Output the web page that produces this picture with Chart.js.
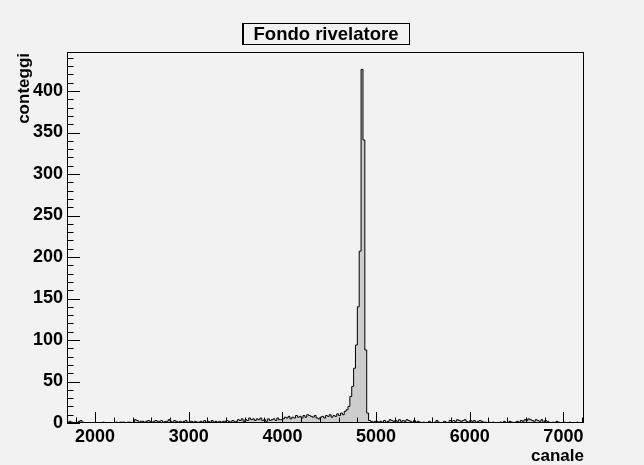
<!DOCTYPE html>
<html>
<head>
<meta charset="utf-8">
<script src="https://cdn.jsdelivr.net/npm/chart.js@4/dist/chart.umd.min.js"></script>
<style>
  body { margin: 0; background: #f2f2f2; }
  #wrap { width: 644px; height: 465px; position: relative; }
</style>
</head>
<body>
<div id="wrap"><canvas id="myChart"></canvas></div>
<script>
// istogramma: canali da 1700 a 7220, bin da 20 canali
var binStart = 1700;
var binWidth = 20;
var conteggi = [
    0, 2, 1, 0, 0,    0, 2, 3, 1, 0,    0, 0, 0, 0, 0,    0, 0, 0, 0, 1,
    0, 0, 0, 0, 0,    0, 1, 0, 1, 1,    1, 0, 1, 1, 0,    1, 4, 3, 1, 2,
    2, 1, 2, 3, 2,    1, 2, 3, 2, 2,    3, 1, 2, 2, 4,    2, 1, 3, 2, 1,
    2, 1, 2, 3, 1,    1, 2, 1, 2, 1,    1, 2, 1, 3, 1,    2, 1, 3, 1, 2,
    1, 2, 1, 2, 2,    3, 2, 1, 3, 2,    2, 4, 3, 5, 2,    4, 3, 6, 4, 5,
    3, 5, 4, 6, 3,    4, 2, 5, 3, 4,    5, 3, 6, 4, 4,    5, 7, 6, 8, 5,
    7, 6, 9, 7, 8,    6, 9, 7, 10, 9,   8, 7, 9, 6, 5,    7, 8, 6, 9, 8,
    10, 7, 9, 8, 11,  9, 12, 10, 14, 16,
    20, 32, 44, 66, 94,
    140, 207, 426, 341, 88,
    12, 3, 2, 1, 2,   2, 1, 2, 1, 3,    1, 2, 4, 3, 2,    3, 2, 4, 2, 3,
    2, 4, 3, 2, 1,    3, 1, 2, 1, 0,    1, 0, 0, 2, 0,    0, 1, 3, 1, 0,
    0, 2, 1, 0, 3,    2, 3, 2, 4, 3,    2, 3, 4, 2, 1,    3, 2, 3, 1, 2,
    3, 2, 1, 1, 0,    1, 0, 1, 0, 0,    0, 1, 0, 2, 0,    1, 2, 1, 0, 1,
    2, 1, 3, 2, 4,    3, 5, 4, 3, 2,    4, 3, 2, 4, 1,    3, 2, 1, 0, 1,
    0, 2, 1, 0, 0,    1, 0, 0, 1, 0,    0, 0, 1, 0, 0,
    0
];
var xTicks = [2000, 3000, 4000, 5000, 6000, 7000];
var yTicks = [0, 50, 100, 150, 200, 250, 300, 350, 400];
var yMax = 447;

var xMin = binStart;
var xMax = binStart + binWidth * conteggi.length;

// contorno a gradini: bordo sinistro di ogni bin, chiuso a zero ai lati
var punti = [{ x: xMin, y: 0 }];
for (var i = 0; i < conteggi.length; i++) {
    punti.push({ x: binStart + i * binWidth, y: conteggi[i] });
}
punti.push({ x: xMax, y: conteggi[conteggi.length - 1] });
punti.push({ x: xMax, y: 0 });

var famiglia = '"Liberation Sans", Arial, sans-serif';

// cornice, tacche verso l'interno, titolo e nomi degli assi
const cornice = {
    id: 'cornice',
    afterDatasetsDraw(chart) {
        const ctx = chart.ctx;
        const a = chart.chartArea;
        const x = chart.scales.x;
        const y = chart.scales.y;
        ctx.save();
        ctx.strokeStyle = '#000';
        ctx.lineWidth = 1;
        ctx.strokeRect(a.left + 0.5, a.top + 0.5, a.width - 1, a.height - 1);

        ctx.beginPath();
        for (var v = 1800; v <= 7200; v += 200) {
            var px = Math.round(x.getPixelForValue(v)) + 0.5;
            var len = (v % 1000 === 0) ? 11 : 5.5;
            ctx.moveTo(px, a.bottom);
            ctx.lineTo(px, a.bottom - len);
        }
        for (var w = 0; w <= 440; w += 10) {
            var py = Math.round(y.getPixelForValue(w)) + 0.5;
            var l = (w % 50 === 0) ? 13 : 6.5;
            ctx.moveTo(a.left, py);
            ctx.lineTo(a.left + l, py);
        }
        ctx.stroke();

        // riquadro del titolo
        ctx.fillStyle = '#f2f2f2';
        ctx.fillRect(243, 23, 166, 21);
        ctx.strokeRect(243.5, 23.5, 166, 21);
        ctx.beginPath();
        ctx.moveTo(242.5, 23);
        ctx.lineTo(242.5, 45);
        ctx.stroke();
        ctx.fillStyle = '#000';
        ctx.font = 'bold 18.5px ' + famiglia;
        ctx.textAlign = 'center';
        ctx.textBaseline = 'middle';
        ctx.fillText('Fondo rivelatore', 326, 34.5);

        ctx.font = 'bold 17px ' + famiglia;
        ctx.textAlign = 'right';
        ctx.textBaseline = 'alphabetic';
        ctx.fillText('canale', a.right, 461);

        ctx.translate(29, a.top + 1);
        ctx.rotate(-Math.PI / 2);
        ctx.fillText('conteggi', 0, 0);
        ctx.restore();
    }
};

function etichetta(value) {
    return String(value);
}

const ctx = document.getElementById('myChart').getContext('2d');
const myChart = new Chart(ctx, {
    type: 'line',
    data: {
        datasets: [{
            label: 'Fondo rivelatore',
            data: punti,
            stepped: 'before',
            borderColor: '#000',
            borderWidth: 1,
            backgroundColor: '#cdcdcd',
            fill: 'origin',
            pointRadius: 0,
            tension: 0
        }]
    },
    options: {
        responsive: true,
        maintainAspectRatio: false,
        animation: false,
        layout: { padding: { top: 52, right: 60, left: 0, bottom: 0 } },
        plugins: {
            legend: { display: false },
            title: { display: false },
            tooltip: { enabled: false }
        },
        scales: {
            x: {
                type: 'linear',
                min: xMin,
                max: xMax,
                afterBuildTicks: function(s) {
                    s.ticks = xTicks.map(function(v) { return { value: v }; });
                },
                afterFit: function(s) { s.height = 42; },
                grid: { display: false, drawTicks: false },
                border: { display: false },
                ticks: {
                    font: { family: famiglia, size: 18, weight: 'bold' },
                    color: '#000',
                    padding: 3,
                    maxRotation: 0,
                    callback: etichetta
                }
            },
            y: {
                type: 'linear',
                min: 0,
                max: yMax,
                afterBuildTicks: function(s) {
                    s.ticks = yTicks.map(function(v) { return { value: v }; });
                },
                afterFit: function(s) { s.width = 67; },
                grid: { display: false, drawTicks: false },
                border: { display: false },
                ticks: {
                    font: { family: famiglia, size: 18, weight: 'bold' },
                    color: '#000',
                    padding: 4,
                    callback: etichetta
                }
            }
        }
    },
    plugins: [cornice]
});
</script>
</body>
</html>
